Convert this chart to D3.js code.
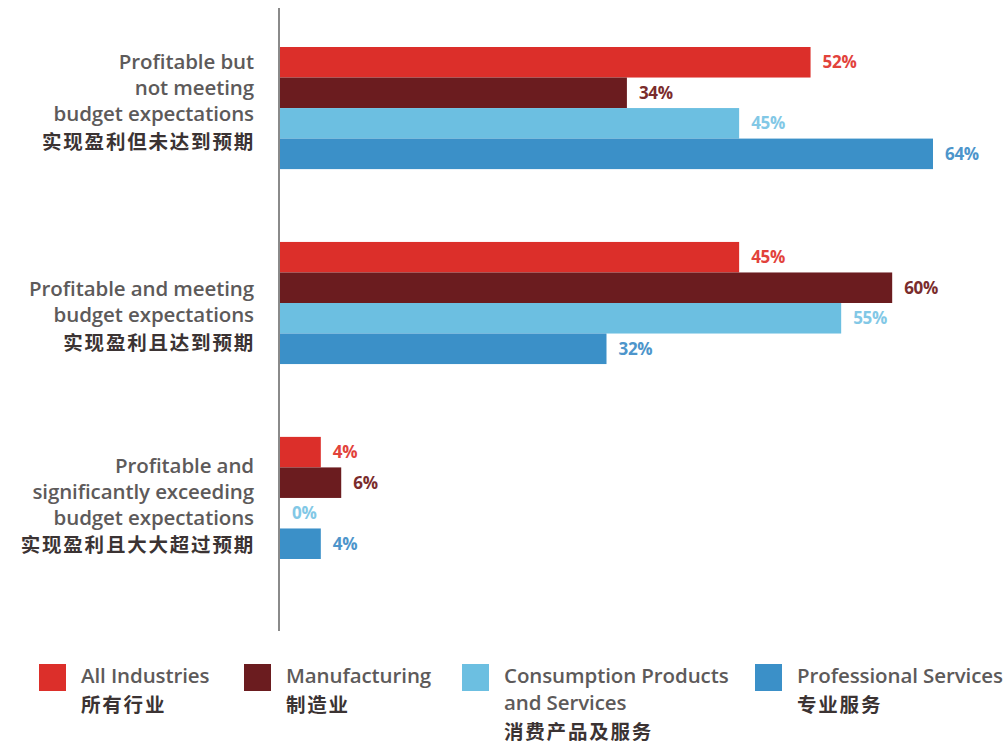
<!DOCTYPE html>
<html>
<head>
<meta charset="utf-8">
<script src="https://cdn.jsdelivr.net/npm/d3@7/dist/d3.min.js"></script>
<style>
  html, body { margin: 0; padding: 0; background: #fff; }
  svg { display: block; }
  .en { font-family: "Open Sans", "Noto Sans", sans-serif; font-weight: 600; fill: #5d5a5a; }
  .zh { font-family: "Noto Sans CJK SC", sans-serif; font-weight: 700; fill: #3b3333; }
  .val { font-family: "Open Sans", "Noto Sans", sans-serif; font-weight: 700; }
</style>
</head>
<body>
<svg id="chart" width="1005" height="746"></svg>
<script>
// Profitability categories (English lines + Chinese line)
const categories = ["notMeeting", "meeting", "exceeding"];
const categoryLinesEn = [
  ["Profitable but", "not meeting", "budget expectations"],
  ["Profitable and meeting", "budget expectations"],
  ["Profitable and", "significantly exceeding", "budget expectations"]
];
const categoryLinesZh = ["实现盈利但未达到预期", "实现盈利且达到预期", "实现盈利且大大超过预期"];

// Series (industries)
const seriesKeys = ["all", "manufacturing", "consumption", "professional"];
const seriesNamesEn = [["All Industries"], ["Manufacturing"], ["Consumption Products", "and Services"], ["Professional Services"]];
const seriesNamesZh = ["所有行业", "制造业", "消费产品及服务", "专业服务"];

// Percent values per series, in category order
const allIndustries = [52, 45, 4];
const manufacturing = [34, 60, 6];
const consumption   = [45, 55, 0];
const professional  = [64, 32, 4];
const seriesValues = [allIndustries, manufacturing, consumption, professional];

const barColors   = ["#dc2f2a", "#6b1c1f", "#6cbfe1", "#3b90c8"];
const labelColors = ["#e2423b", "#7a2c2c", "#82c8e6", "#4d95cb"];

const svg = d3.select("#chart");

const x = d3.scaleLinear().domain([0, 64]).range([280, 933]);
const y = d3.scaleBand().domain(categories).range([47, 559]).paddingInner(0.3736).paddingOuter(0);
const yInner = d3.scaleBand().domain(seriesKeys).range([0, y.bandwidth()]).padding(0);

// Vertical baseline
svg.append("line")
  .attr("x1", 279).attr("x2", 279)
  .attr("y1", 8).attr("y2", 631)
  .attr("stroke", "#8a8a8a").attr("stroke-width", 2);

// Bars and value labels
categories.forEach((cat, ci) => {
  const g = svg.append("g").attr("transform", `translate(0,${y(cat)})`);
  seriesKeys.forEach((key, si) => {
    const v = seriesValues[si][ci];
    const y0 = yInner(key);
    if (v > 0) {
      g.append("rect")
        .attr("x", x(0)).attr("y", y0)
        .attr("width", x(v) - x(0))
        .attr("height", yInner.bandwidth())
        .attr("fill", barColors[si]);
    }
    g.append("text")
      .attr("class", "val")
      .attr("x", x(v) + 12)
      .attr("y", y0 + yInner.bandwidth() / 2)
      .attr("dy", "0.36em")
      .attr("font-size", 17)
      .attr("letter-spacing", -0.3)
      .attr("fill", labelColors[si])
      .text(v + "%");
  });
});

// Category labels, right-aligned left of the baseline
const labelShift = [-6, 13, 7.5];
const lineGap = 26;
categories.forEach((cat, ci) => {
  const lines = categoryLinesEn[ci];
  const n = lines.length + 1;
  const center = y(cat) + y.bandwidth() / 2 + labelShift[ci];
  const first = center - (lineGap * (n - 1) + 2) / 2;
  const t = svg.append("g");
  lines.forEach((ln, li) => {
    t.append("text").attr("class", "en")
      .attr("x", 254).attr("y", first + li * lineGap)
      .attr("dy", "0.35em").attr("text-anchor", "end")
      .attr("font-size", 20.5).attr("letter-spacing", -0.1)
      .text(ln);
  });
  t.append("text").attr("class", "zh")
    .attr("x", 255).attr("y", first + lines.length * lineGap + 2)
    .attr("dy", "0.35em").attr("text-anchor", "end")
    .attr("font-size", 19.5).attr("letter-spacing", 1.8)
    .text(categoryLinesZh[ci]);
});

// Legend
const legendX = [39, 244, 462, 755];
const legend = svg.append("g").attr("transform", "translate(0,664)");
seriesKeys.forEach((key, si) => {
  const item = legend.append("g").attr("transform", `translate(${legendX[si]},0)`);
  item.append("rect").attr("width", 27).attr("height", 27).attr("fill", barColors[si]);
  const en = seriesNamesEn[si];
  en.forEach((ln, li) => {
    item.append("text").attr("class", "en")
      .attr("x", 42).attr("y", 12 + li * 27)
      .attr("dy", "0.35em").attr("font-size", 20.5).attr("letter-spacing", -0.1)
      .text(ln);
  });
  item.append("text").attr("class", "zh")
    .attr("x", 42).attr("y", 12 + en.length * 27 + 2)
    .attr("dy", "0.35em").attr("font-size", 19.5).attr("letter-spacing", 1.8)
    .text(seriesNamesZh[si]);
});
</script>
</body>
</html>
